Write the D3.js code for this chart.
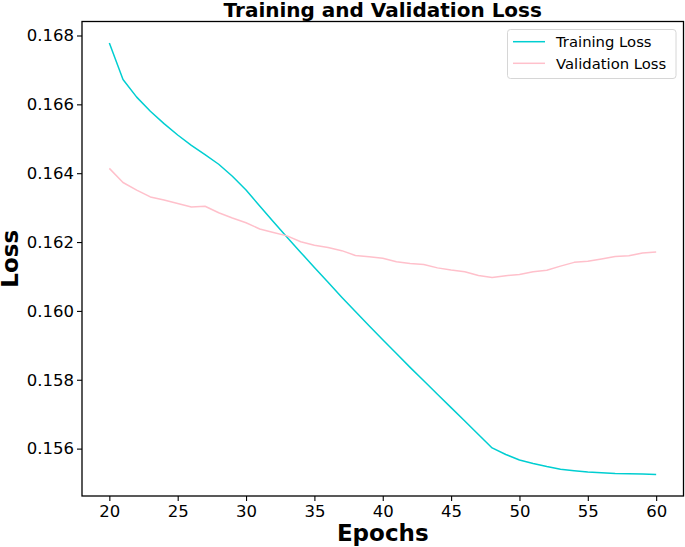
<!DOCTYPE html>
<html>
<head>
<meta charset="utf-8">
<script src="https://cdn.jsdelivr.net/npm/d3@7"></script>
<style>
  html, body { margin: 0; padding: 0; background: #fff; }
  svg { display: block; }
  text { font-family: "DejaVu Sans", sans-serif; }
</style>
</head>
<body>
<svg id="chart" width="685" height="547"></svg>
<script>
// ---- data ----
const epochs = d3.range(20, 61);
const trainingLoss = [
  0.16778, 0.16672, 0.16621, 0.16580, 0.16544, 0.16511, 0.16481, 0.16454, 0.16426, 0.16391,
  0.16351, 0.16305, 0.16259, 0.16214, 0.16170, 0.16126, 0.16083, 0.16040, 0.15998, 0.15957,
  0.15916, 0.15876, 0.15836, 0.15797, 0.15758, 0.15719, 0.15680, 0.15641, 0.15602, 0.15583,
  0.15567, 0.15557, 0.15548, 0.15540, 0.15536, 0.15532, 0.15530, 0.15528, 0.15527, 0.15526,
  0.15525
];
const validationLoss = [
  0.16414, 0.16373, 0.16351, 0.16331, 0.16322, 0.16312, 0.16302, 0.16304, 0.16285, 0.16270,
  0.16256, 0.16238, 0.16228, 0.16218, 0.16201, 0.16191, 0.16184, 0.16175, 0.16161, 0.16157,
  0.16153, 0.16143, 0.16138, 0.16135, 0.16125, 0.16119, 0.16114, 0.16103, 0.16097, 0.16102,
  0.16106, 0.16114, 0.16118, 0.16130, 0.16141, 0.16144, 0.16151, 0.16158, 0.16160, 0.16168,
  0.16171
];
const xTicks = [20, 25, 30, 35, 40, 45, 50, 55, 60];
const yTicks = [0.156, 0.158, 0.160, 0.162, 0.164, 0.166, 0.168];
const seriesNames = ["Training Loss", "Validation Loss"];
const seriesColors = ["#00CED1", "#FFC0CB"];

// ---- layout ----
const L = 82, R = 683.5, T = 21.5, B = 496;
const svg = d3.select("#chart");

const allVals = trainingLoss.concat(validationLoss);
const ymin = d3.min(allVals), ymax = d3.max(allVals);
const ypad = (ymax - ymin) * 0.05;
const x = d3.scaleLinear().domain([18, 62]).range([L, R]);
const y = d3.scaleLinear().domain([ymin - ypad, ymax + ypad]).range([B, T]);

// lines
const series = [trainingLoss, validationLoss];
const line = d3.line().x((d, i) => x(epochs[i])).y(d => y(d));
series.forEach((s, k) => {
  svg.append("path")
    .datum(s)
    .attr("fill", "none")
    .attr("stroke", seriesColors[k])
    .attr("stroke-width", 1.5)
    .attr("stroke-linejoin", "round")
    .attr("d", line);
});

// axes
const xAxis = d3.axisBottom(x).tickValues(xTicks).tickSize(5).tickPadding(4).tickFormat(d3.format("d"));
const yAxis = d3.axisLeft(y).tickValues(yTicks).tickSize(5).tickPadding(3).tickFormat(d3.format(".3f"));

const gx = svg.append("g").attr("transform", `translate(0,${B})`).call(xAxis);
const gy = svg.append("g").attr("transform", `translate(${L},0)`).call(yAxis);
[gx, gy].forEach(g => {
  g.select(".domain").remove();
  g.selectAll(".tick line").attr("stroke", "#000").attr("stroke-width", 1.1);
  g.selectAll(".tick text").attr("fill", "#000").style("font-size", "16.5px").style("font-family", "DejaVu Sans");
});

// frame
svg.append("rect")
  .attr("x", L).attr("y", T).attr("width", R - L).attr("height", B - T)
  .attr("fill", "none").attr("stroke", "#000").attr("stroke-width", 1.3);

// title and labels
svg.append("text")
  .attr("x", (L + R) / 2).attr("y", 17)
  .attr("text-anchor", "middle")
  .style("font-size", "20px").style("font-weight", "bold")
  .text("Training and Validation Loss");

svg.append("text")
  .attr("x", (L + R) / 2).attr("y", 541)
  .attr("text-anchor", "middle")
  .style("font-size", "23px").style("font-weight", "bold")
  .text("Epochs");

svg.append("text")
  .attr("transform", `translate(17.5,${(T + B) / 2}) rotate(-90)`)
  .attr("text-anchor", "middle")
  .style("font-size", "23px").style("font-weight", "bold")
  .text("Loss");

// legend
const lg = svg.append("g");
lg.append("rect")
  .attr("x", 507.5).attr("y", 29.5).attr("width", 168.5).attr("height", 49)
  .attr("rx", 3).attr("ry", 3)
  .attr("fill", "#fff").attr("fill-opacity", 0.8)
  .attr("stroke", "#d6d6d6").attr("stroke-width", 1);
seriesNames.forEach((name, k) => {
  const yy = 41.7 + k * 21.6;
  lg.append("line")
    .attr("x1", 513).attr("x2", 545).attr("y1", yy).attr("y2", yy)
    .attr("stroke", seriesColors[k]).attr("stroke-width", 1.5);
  lg.append("text")
    .attr("x", 556).attr("y", yy + 5.3)
    .style("font-size", "14.8px")
    .attr("fill", "#000")
    .text(name);
});
</script>
</body>
</html>
